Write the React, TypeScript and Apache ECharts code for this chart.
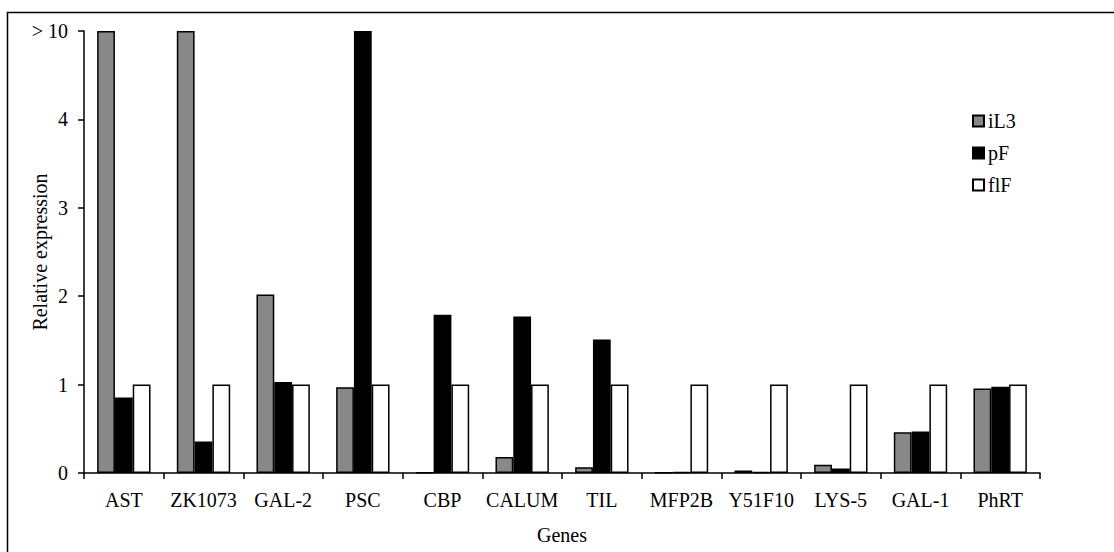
import React, { useEffect, useRef } from "react";
import * as echarts from "echarts";

// Values above 10 are drawn at the broken-axis cap (5, labelled "> 10").
const CAP = 5;
const genes = ["AST", "ZK1073", "GAL-2", "PSC", "CBP", "CALUM", "TIL", "MFP2B", "Y51F10", "LYS-5", "GAL-1", "PhRT"];
const iL3 = [CAP, CAP, 2.02, 0.97, 0.005, 0.18, 0.065, 0.003, 0.028, 0.094, 0.46, 0.955];
const pF = [0.855, 0.355, 1.03, CAP, 1.79, 1.77, 1.51, 0.01, 0.012, 0.05, 0.47, 0.975];
const flF = [1, 1, 1, 1, 1, 1, 1, 1, 1, 1, 1, 1];
const yTicks = [0, 1, 2, 3, 4, 5];
const yTickLabels = ["0", "1", "2", "3", "4", "> 10"];

const FONT = "'Liberation Serif', 'DejaVu Serif', serif";
const FS = 20;

export default function App() {
  const ref = useRef<HTMLDivElement>(null);
  useEffect(() => {
    if (!ref.current) return;
    const chart = echarts.init(ref.current, undefined, { renderer: "svg" });
    const barStyle = (color: string) => ({
      color,
      borderColor: "#000",
      borderWidth: 1.5,
    });
    chart.setOption({
      animation: false,
      backgroundColor: "#fff",
      textStyle: { fontFamily: FONT, color: "#000" },
      graphic: [
        {
          type: "rect",
          shape: { x: 7.5, y: 12.5, width: 1200, height: 700 },
          style: { fill: "none", stroke: "#000", lineWidth: 1.5 },
          silent: true,
        },
      ],
      grid: { left: 84, right: 74, top: 31, bottom: 79 },
      legend: {
        orient: "vertical",
        left: 967,
        top: 106,
        itemWidth: 11,
        itemHeight: 11,
        itemGap: 12,
        icon: "rect",
        textStyle: { fontFamily: FONT, fontSize: FS, color: "#000", padding: [0, 0, 0, -1] },
        data: ["iL3", "pF", "flF"],
      },
      xAxis: {
        type: "category",
        data: genes,
        name: "Genes",
        nameLocation: "middle",
        nameGap: 52,
        nameMoveOverlap: false,
        nameTextStyle: { fontFamily: FONT, fontSize: FS, color: "#000" },
        axisLine: { lineStyle: { color: "#000", width: 1.5 } },
        axisTick: { show: true, length: 6, alignWithLabel: false, lineStyle: { color: "#000", width: 1.5 } },
        axisLabel: { fontFamily: FONT, fontSize: FS, color: "#000", margin: 17, interval: 0 },
      },
      yAxis: {
        type: "value",
        min: 0,
        max: 5,
        interval: 1,
        name: "Relative expression",
        nameLocation: "middle",
        nameGap: 34,
        nameMoveOverlap: false,
        nameTextStyle: { fontFamily: FONT, fontSize: FS, color: "#000" },
        axisLine: { show: true, lineStyle: { color: "#000", width: 1.5 } },
        axisTick: { show: true, length: 6, lineStyle: { color: "#000", width: 1.5 } },
        splitLine: { show: false },
        axisLabel: {
          fontFamily: FONT,
          fontSize: FS,
          color: "#000",
          margin: 16,
          formatter: (v: number) => yTickLabels[yTicks.indexOf(v)] ?? String(v),
        },
      },
      series: [
        { name: "iL3", type: "bar", data: iL3, barGap: "0%", barCategoryGap: "33%", itemStyle: barStyle("#888888") },
        { name: "pF", type: "bar", data: pF, barGap: "0%", barCategoryGap: "33%", itemStyle: barStyle("#000000") },
        { name: "flF", type: "bar", data: flF, barGap: "0%", barCategoryGap: "33%", itemStyle: barStyle("#ffffff") },
      ],
    });
    return () => chart.dispose();
  }, []);
  return (
    <div
      ref={ref}
      style={{ position: "fixed", left: 0, top: 0, width: 1114, height: 552 }}
    />
  );
}
